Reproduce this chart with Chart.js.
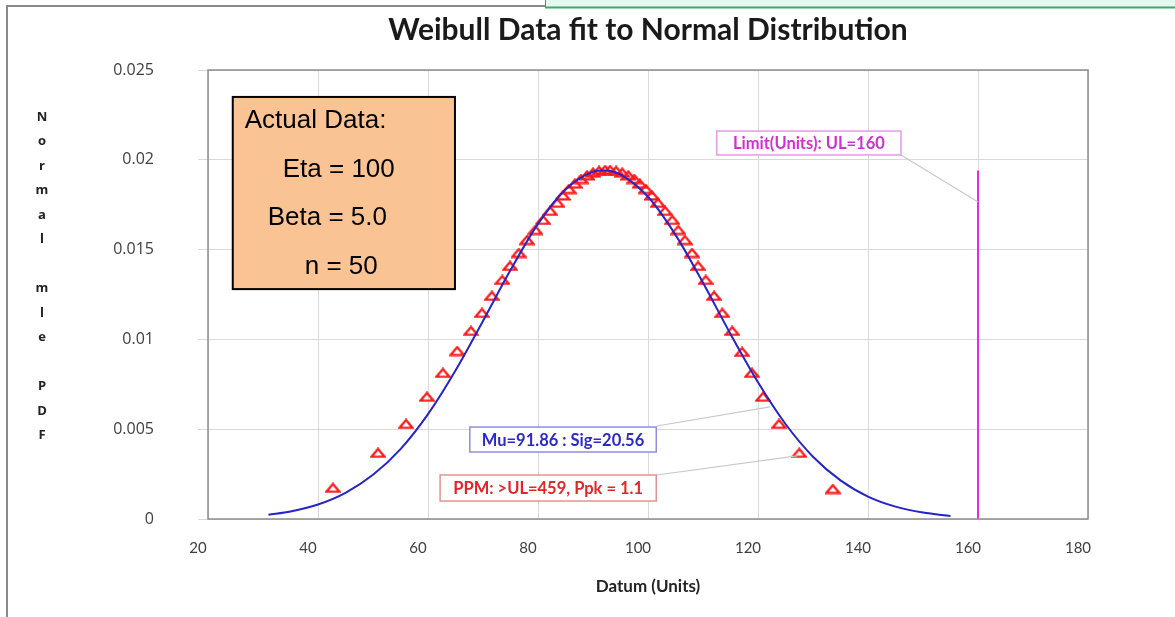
<!DOCTYPE html>
<html>
<head>
<meta charset="utf-8">
<script src="https://cdn.jsdelivr.net/npm/chart.js@4.4.1/dist/chart.umd.min.js"></script>
<style>
  html, body { margin: 0; padding: 0; background: #fff; }
  #wrap { width: 1175px; height: 617px; position: relative; }
</style>
</head>
<body>
<div id="wrap"><canvas id="myChart" width="1175" height="617"></canvas></div>
<script>
// fitted normal curve
var curveX = [31, 35, 40, 45, 50, 55, 60, 65, 70, 75, 80, 85, 90, 92, 95, 100, 105, 110, 115, 120, 125, 130, 135, 140, 145, 150, 155];
var curveY = [0.00024, 0.00042, 0.00081, 0.00146, 0.00246, 0.00389, 0.00584, 0.00827, 0.01103, 0.01386, 0.01643, 0.01835, 0.01933, 0.01940, 0.01918, 0.01794, 0.01582, 0.01315, 0.01030, 0.00761, 0.00529, 0.00347, 0.00215, 0.00125, 0.00069, 0.00036, 0.00017];

// the 50 data points (triangles)
var dataX = [42.7, 50.9, 56.0, 59.8, 62.7, 65.3, 67.8, 69.8, 71.6, 73.5, 74.9, 76.5, 78.0, 79.5, 80.9, 82.2, 83.5,
  84.5, 85.6, 86.7, 87.8, 88.9, 90.0, 91.1, 92.2, 93.1, 94.2, 95.3, 96.4, 97.5, 98.5, 99.6, 100.7,
  101.8, 103.1, 104.4, 105.5, 106.7, 108.0, 109.1, 110.5, 112.0, 113.5, 115.3, 117.1, 118.9, 120.9, 123.8, 127.5, 133.6];
var dataY = [0.00173, 0.00368, 0.00529, 0.00680, 0.00813, 0.00935, 0.01047, 0.01147, 0.01242, 0.01331, 0.01409, 0.01481, 0.01553, 0.01609, 0.01665, 0.01715, 0.01760,
  0.01801, 0.01837, 0.01867, 0.01893, 0.01913, 0.01928, 0.01938, 0.01943, 0.01943, 0.01938, 0.01928, 0.01913, 0.01893, 0.01867, 0.01837, 0.01801,
  0.01760, 0.01715, 0.01665, 0.01609, 0.01553, 0.01481, 0.01409, 0.01331, 0.01242, 0.01147, 0.01047, 0.00930, 0.00813, 0.00680, 0.00529, 0.00368, 0.00167];

// upper limit line
var limitX = [160, 160];
var limitY = [0, 0.0194];

var xTicks = [20, 40, 60, 80, 100, 120, 140, 160, 180];
var yTicks = [0, 0.005, 0.01, 0.015, 0.02, 0.025];

var titleText = 'Weibull Data fit to Normal Distribution';
var xTitle = 'Datum (Units)';
var yTitle = 'Normal mle PDF';
var infoLines = ['Actual Data:', 'Eta = 100', 'Beta = 5.0', 'n = 50'];
var muLabel = 'Mu=91.86 : Sig=20.56';
var ppmLabel = 'PPM: >UL=459, Ppk = 1.1';
var limitLabel = 'Limit(Units): UL=160';

function pts(xs, ys) {
  return xs.map(function (x, i) { return { x: x, y: ys[i] }; });
}

// flat open triangle marker like the original
var tri = document.createElement('canvas');
tri.width = 16; tri.height = 11;
(function () {
  var t = tri.getContext('2d');
  t.strokeStyle = '#ff1a1a';
  t.lineWidth = 2.3;
  t.beginPath();
  t.moveTo(8, 1.6); t.lineTo(14.6, 9.4); t.lineTo(1.4, 9.4); t.closePath();
  t.stroke();
})();

// labels in data units: box corners and leader line end
var callouts = [
  { text: limitLabel, x0: 112.5, x1: 146.0, y0: 0.02160, y1: 0.02027, color: '#d22fd2', border: '#e59ce5', from: [146.0, 0.02027], to: [160.0, 0.01765] },
  { text: muLabel, x0: 67.6, x1: 101.5, y0: 0.00512, y1: 0.00373, color: '#2a2ac4', border: '#8f8fdc', from: [101.6, 0.00518], to: [122.2, 0.00624] },
  { text: ppmLabel, x0: 62.2, x1: 101.5, y0: 0.00245, y1: 0.00100, color: '#e02626', border: '#e29393', from: [101.6, 0.00245], to: [127.1, 0.00351] }
];

var extras = {
  id: 'extras',
  beforeDraw: function (chart) {
    var c = chart.ctx;
    c.save();
    // outer frame and the strip at the top right
    c.strokeStyle = '#8a8a8a';
    c.lineWidth = 2;
    c.beginPath();
    c.moveTo(7, 617); c.lineTo(7, 6); c.lineTo(545, 6);
    c.stroke();
    c.fillStyle = '#e3f8ee';
    c.fillRect(545, 0, 630, 7);
    c.strokeStyle = '#3daa6a';
    c.beginPath(); c.moveTo(545, 7.5); c.lineTo(1175, 7.5); c.stroke();
    c.strokeStyle = '#777';
    c.lineWidth = 1;
    c.beginPath(); c.moveTo(545.5, 0); c.lineTo(545.5, 7); c.stroke();
    c.restore();
  },
  afterDraw: function (chart) {
    var c = chart.ctx, xs = chart.scales.x, ys = chart.scales.y, a = chart.chartArea;
    c.save();
    // plot border
    c.strokeStyle = '#8c8c8c';
    c.lineWidth = 1.5;
    c.strokeRect(a.left, a.top, a.right - a.left, a.bottom - a.top);

    // title
    c.fillStyle = '#1a1a1a';
    c.font = 'bold 30px Lato';
    c.textAlign = 'center';
    c.textBaseline = 'middle';
    c.fillText(titleText, 648, 30);

    // stacked y axis title
    c.font = 'bold 13px "Open Sans"';
    c.fillStyle = '#222';
    var chars = yTitle.split('');
    chars.forEach(function (ch, i) {
      if (ch !== ' ') c.fillText(ch, 42, 117 + i * 24.5);
    });

    // info box
    var bx0 = xs.getPixelForValue(24.5), bx1 = xs.getPixelForValue(64.9);
    var by0 = ys.getPixelForValue(0.0235), by1 = ys.getPixelForValue(0.0128);
    c.fillStyle = '#fac394';
    c.fillRect(bx0, by0, bx1 - bx0, by1 - by0);
    c.strokeStyle = '#000';
    c.lineWidth = 2;
    c.strokeRect(bx0, by0, bx1 - bx0, by1 - by0);
    c.fillStyle = '#000';
    c.font = '26px "Liberation Sans"';
    c.textAlign = 'left';
    var offs = [12, 50, 35, 72];
    infoLines.forEach(function (t, i) {
      c.fillText(t, bx0 + offs[i], by0 + 24 + i * 48.5);
    });

    // callouts
    callouts.forEach(function (o) {
      var x0 = xs.getPixelForValue(o.x0), x1 = xs.getPixelForValue(o.x1);
      var y0 = ys.getPixelForValue(o.y0), y1 = ys.getPixelForValue(o.y1);
      c.strokeStyle = '#c8c8c8';
      c.lineWidth = 1.2;
      c.beginPath();
      c.moveTo(xs.getPixelForValue(o.from[0]), ys.getPixelForValue(o.from[1]));
      c.lineTo(xs.getPixelForValue(o.to[0]), ys.getPixelForValue(o.to[1]));
      c.stroke();
      c.fillStyle = '#fff';
      c.fillRect(x0, y0, x1 - x0, y1 - y0);
      c.strokeStyle = o.border;
      c.lineWidth = 1.5;
      c.strokeRect(x0, y0, x1 - x0, y1 - y0);
      c.fillStyle = o.color;
      c.font = 'bold 16.5px Lato';
      c.textAlign = 'center';
      c.fillText(o.text, (x0 + x1) / 2, (y0 + y1) / 2 + 1);
    });
    c.restore();
  }
};

var mychart = document.getElementById('myChart').getContext('2d');
var myChart = new Chart(mychart, {
  type: 'scatter',
  data: {
    datasets: [
      {
        label: 'points',
        data: pts(dataX, dataY),
        pointStyle: tri,
        pointRadius: 6,
        borderColor: '#ff1a1a',
        backgroundColor: 'rgba(0,0,0,0)',
        order: 1
      },
      {
        label: 'normal fit',
        data: pts(curveX, curveY),
        showLine: true,
        pointRadius: 0,
        borderColor: '#2424c8',
        borderWidth: 2,
        cubicInterpolationMode: 'monotone',
        order: 0
      },
      {
        label: 'limit',
        data: pts(limitX, limitY),
        showLine: true,
        pointRadius: 0,
        borderColor: '#e02ee0',
        borderWidth: 2,
        order: 2
      }
    ]
  },
  options: {
    responsive: false,
    animation: false,
    layout: { padding: { left: 0, right: 87, top: 70, bottom: 0 } },
    plugins: { legend: { display: false }, tooltip: { enabled: false } },
    scales: {
      x: {
        type: 'linear',
        min: 20, max: 180,
        afterBuildTicks: function (s) { s.ticks = xTicks.map(function (v) { return { value: v }; }); },
        afterFit: function (s) { s.height = 98; },
        grid: { color: '#d9d9d9', drawTicks: false },
        border: { display: false },
        ticks: { padding: 20, labelOffset: -10, color: '#404040', font: { family: 'Lato', size: 15 } },
        title: { display: true, text: xTitle, color: '#222', font: { family: 'Lato', size: 17, weight: 'bold' }, padding: { top: 0, bottom: 20 } }
      },
      y: {
        type: 'linear',
        min: 0, max: 0.025,
        afterBuildTicks: function (s) { s.ticks = yTicks.map(function (v) { return { value: v }; }); },
        afterFit: function (s) { s.width = 208; },
        grid: { color: '#d9d9d9', tickLength: 10 },
        border: { display: false },
        ticks: {
          padding: 44, color: '#404040', font: { family: 'Open Sans', size: 16 },
          callback: function (v) { return String(+v.toFixed(3)); }
        }
      }
    }
  },
  plugins: [extras]
});
</script>
</body>
</html>
